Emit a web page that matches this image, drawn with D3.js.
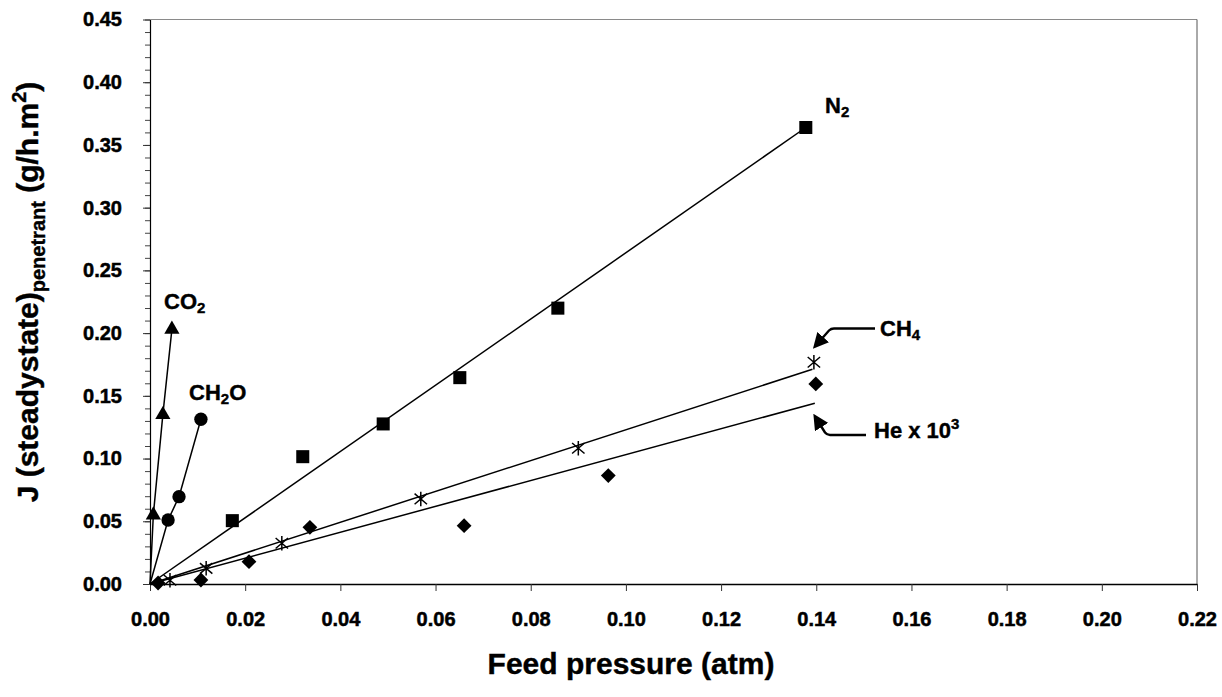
<!DOCTYPE html>
<html><head><meta charset="utf-8">
<script src="https://cdn.jsdelivr.net/npm/d3@7"></script>
<style>
html,body{margin:0;padding:0;background:#fff;}
svg{display:block;font-family:"Liberation Sans",Arial,sans-serif;font-weight:bold;}
</style></head>
<body><svg id="c" width="1222" height="697"></svg>
<script>
// ---- data ----
const xTicks = [0,0.02,0.04,0.06,0.08,0.10,0.12,0.14,0.16,0.18,0.20,0.22];
const yTicks = [0,0.05,0.10,0.15,0.20,0.25,0.30,0.35,0.40,0.45];
const yMinorTicks = d3.range(0,46).map(i=>i/100);

const co2X  = [0, 0.0007, 0.0027, 0.0046];
const co2Y  = [0, 0.055, 0.135, 0.203];
const ch2oX = [0, 0.0038, 0.0061, 0.0107];
const ch2oY = [0, 0.051, 0.0696, 0.1313];
const n2X   = [0.0173, 0.0321, 0.0490, 0.0651, 0.0857, 0.1378];
const n2Y   = [0.0505, 0.1015, 0.1276, 0.1645, 0.2199, 0.3639];
const ch4X  = [0.0042, 0.0118, 0.0277, 0.0569, 0.0900, 0.1395];
const ch4Y  = [0.0030, 0.0125, 0.0325, 0.0678, 0.1082, 0.1768];
const heX   = [0.0017, 0.0107, 0.0208, 0.0336, 0.0660, 0.0963, 0.1399];
const heY   = [0.0008, 0.0032, 0.0178, 0.0452, 0.0465, 0.0864, 0.1595];
// linear fit lines (start, end)
const n2FitX  = [0, 0.1378], n2FitY  = [0, 0.3639];
const ch4FitX = [0, 0.1392], ch4FitY = [0, 0.1712];
const heFitX  = [0, 0.1397], heFitY  = [0, 0.1441];

// ---- layout ----
const svg = d3.select("#c");
const x = d3.scaleLinear().domain([0,0.22]).range([150,1197]);
const y = d3.scaleLinear().domain([0,0.45]).range([584,19.5]);
const zip = (a,b)=>a.map((v,i)=>[v,b[i]]);
const line = d3.line().x(d=>x(d[0])).y(d=>y(d[1]));
const FONT = "Liberation Sans, Arial, sans-serif";

// frame (top / right, light grey)
svg.append("line").attr("x1",150).attr("x2",1197).attr("y1",19.5).attr("y2",19.5)
  .attr("stroke","#8a8a8a").attr("stroke-width",1);
svg.append("line").attr("x1",1197).attr("x2",1197).attr("y1",19.5).attr("y2",584)
  .attr("stroke","#555").attr("stroke-width",1);

// x axis
const gx = svg.append("g").attr("transform","translate(0,584)")
  .call(d3.axisBottom(x).tickValues(xTicks).tickSize(7).tickSizeOuter(0).tickPadding(21).tickFormat(d3.format(".2f")));
gx.select(".domain").attr("stroke","#000").attr("stroke-width",1.5);
gx.selectAll(".tick line").attr("stroke","#333").attr("stroke-width",1);
gx.selectAll("text").attr("font-size",20).attr("font-weight","bold").attr("font-family",FONT)
  .attr("fill","#000").attr("stroke","#000").attr("stroke-width",0.5);

// y axis minor ticks
const gym = svg.append("g").attr("transform","translate(150,0)")
  .call(d3.axisLeft(y).tickValues(yMinorTicks).tickSize(5).tickFormat(""));
gym.select(".domain").remove();
gym.selectAll(".tick line").attr("stroke","#444").attr("stroke-width",1);
// y axis major
const gy = svg.append("g").attr("transform","translate(150,0)")
  .call(d3.axisLeft(y).tickValues(yTicks).tickSize(7).tickSizeOuter(0).tickPadding(21).tickFormat(d3.format(".2f")));
gy.select(".domain").attr("stroke","#000").attr("stroke-width",1.2);
gy.selectAll(".tick line").attr("stroke","#333");
gy.selectAll("text").attr("font-size",20).attr("font-weight","bold").attr("font-family",FONT)
  .attr("fill","#000").attr("stroke","#000").attr("stroke-width",0.5);

// axis titles
svg.append("text").attr("x",631).attr("y",674).attr("text-anchor","middle")
  .attr("font-size",30).attr("stroke","#000").attr("stroke-width",0.4).text("Feed pressure (atm)");
const yt = svg.append("text").attr("transform","translate(38,292) rotate(-90)")
  .attr("text-anchor","middle").attr("font-size",30).attr("stroke","#000").attr("stroke-width",0.4);
yt.append("tspan").text("J (steadystate)");
yt.append("tspan").attr("font-size",20).attr("dy",7).text("penetrant");
yt.append("tspan").attr("dy",-7).text(" (g/h.m");
yt.append("tspan").attr("font-size",20).attr("dy",-12).text("2");
yt.append("tspan").attr("dy",12).text(")");

// lines
const lw = 1.5;
const plot = svg.append("g");
[[co2X,co2Y],[ch2oX,ch2oY],[n2FitX,n2FitY],[ch4FitX,ch4FitY],[heFitX,heFitY]].forEach(([a,b])=>{
  plot.append("path").attr("d",line(zip(a,b))).attr("fill","none").attr("stroke","#000").attr("stroke-width",lw);
});

// markers
const tri = d3.symbol().type(d3.symbolTriangle).size(100)();
const sq = d3.symbol().type(d3.symbolSquare).size(170)();
const circ = d3.symbol().type(d3.symbolCircle).size(140)();
const diaType = {draw(ctx){const r=7.4;ctx.moveTo(0,-r);ctx.lineTo(r,0);ctx.lineTo(0,r);ctx.lineTo(-r,0);ctx.closePath();}};
const dia = d3.symbol().type(diaType)();
const astType = {draw(ctx){const r=7.3;ctx.moveTo(0,-r);ctx.lineTo(0,r);
  const a=r*0.85,b=r*0.72;ctx.moveTo(-a,-b);ctx.lineTo(a,b);ctx.moveTo(-a,b);ctx.lineTo(a,-b);}};
const ast = d3.symbol().type(astType)();

function pts(xs,ys,path,opts){
  plot.selectAll(null).data(zip(xs,ys)).join("path")
    .attr("transform",d=>`translate(${x(d[0])},${y(d[1])})`)
    .attr("d",path)
    .attr("fill",opts.fill).attr("stroke",opts.stroke||"none").attr("stroke-width",opts.sw||0);
}
pts(co2X.slice(1),co2Y.slice(1),tri,{fill:"#000"});
pts(ch2oX.slice(1),ch2oY.slice(1),circ,{fill:"#000"});
pts(n2X,n2Y,sq,{fill:"#000"});
pts(heX,heY,dia,{fill:"#000"});
pts(ch4X,ch4Y,ast,{fill:"none",stroke:"#000",sw:1.5});

// labels
function chem(xp,yp,parts){
  const t = svg.append("text").attr("x",xp).attr("y",yp).attr("font-size",22)
    .attr("stroke","#000").attr("stroke-width",0.4);
  parts.forEach(p=>{
    const s = t.append("tspan").text(p.t);
    if(p.sub){s.attr("font-size",15).attr("dy",4);}
    else if(p.sup){s.attr("font-size",15).attr("dy",-9);}
    else if(p.back){s.attr("dy",p.back);}
  });
}
chem(164,309,[{t:"CO"},{t:"2",sub:true}]);
chem(189,400,[{t:"CH"},{t:"2",sub:true},{t:"O",back:-4}]);
chem(825,113,[{t:"N"},{t:"2",sub:true}]);
chem(880,336,[{t:"CH"},{t:"4",sub:true}]);
chem(874,438,[{t:"He x 10"},{t:"3",sup:true}]);

// arrows
const defs = svg.append("defs");
defs.append("marker").attr("id","ah").attr("viewBox","0 0 10 10").attr("refX",8).attr("refY",5)
  .attr("markerWidth",6.5).attr("markerHeight",6.5).attr("orient","auto").attr("markerUnits","strokeWidth")
  .append("path").attr("d","M0,0 L10,5 L0,10 Z").attr("fill","#000");
svg.append("path").attr("d","M875,328.5 L834,328.5 Q831,328.5 829,330.5 L815,346.5")
  .attr("fill","none").attr("stroke","#000").attr("stroke-width",2.4).attr("marker-end","url(#ah)");
svg.append("path").attr("d","M866,435 L830,435 Q827,435 825,432.5 L815,416.5")
  .attr("fill","none").attr("stroke","#000").attr("stroke-width",2.4).attr("marker-end","url(#ah)");
</script></body></html>
